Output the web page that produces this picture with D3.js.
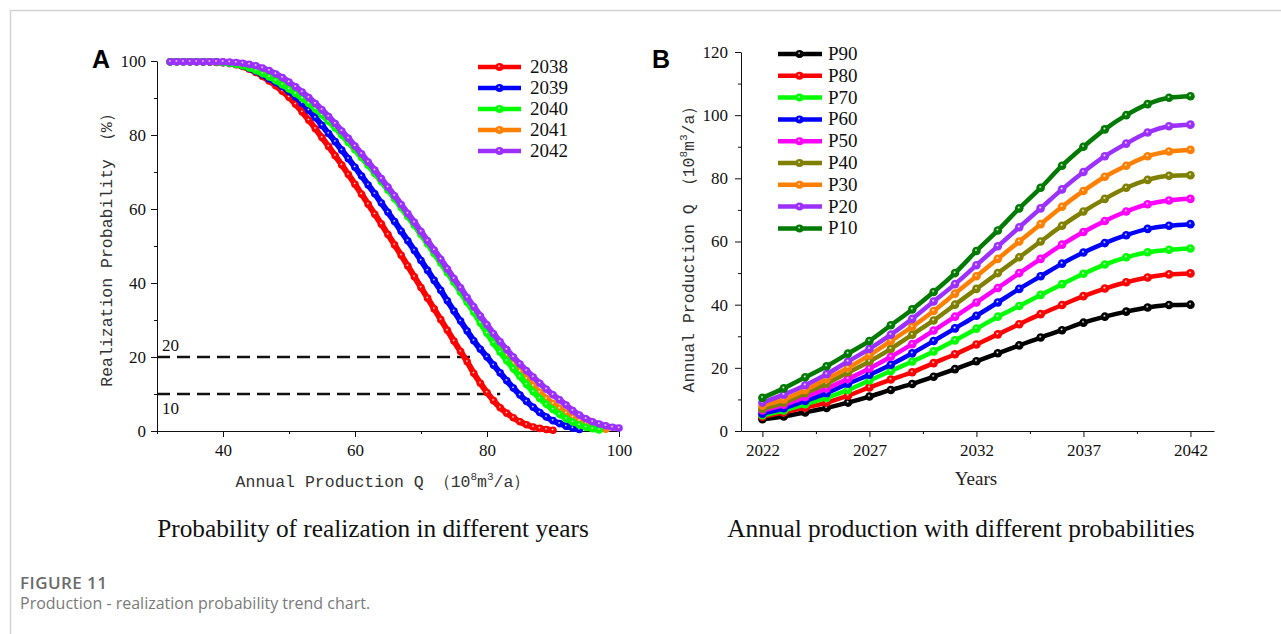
<!DOCTYPE html>
<html>
<head>
<meta charset="utf-8">
<script src="https://cdn.jsdelivr.net/npm/d3@7"></script>
<style>
body { margin: 0; background: #fff; }
</style>
</head>
<body>
<div id="chart"></div>
<script>
// ---- Panel A data: realization probability (%) against annual production Q ----
const qGrid = [32, 33, 34, 35, 36, 37, 38, 39, 40, 41, 42, 43, 44, 45, 46, 47, 48, 49, 50,
  51, 52, 53, 54, 55, 56, 57, 58, 59, 60, 61, 62, 63, 64, 65, 66, 67, 68, 69, 70,
  71, 72, 73, 74, 75, 76, 77, 78, 79, 80, 81, 82, 83, 84, 85, 86, 87, 88, 89, 90,
  91, 92, 93, 94, 95, 96, 97, 98, 99, 100]
const yearsA = ['2038', '2039', '2040', '2041', '2042']
const colorsA = ['#ff0000', '#0000ff', '#00ff00', '#ff8000', '#9b30ff']
const p2038 = [99.8, 99.8, 99.8, 99.8, 99.8, 99.7, 99.7, 99.6, 99.5, 99.3, 99.0, 98.5, 97.8, 96.9, 95.8, 94.6, 93.3, 91.8, 90.2,
  88.3, 86.2, 84.0, 81.7, 79.3, 76.9, 74.4, 71.9, 69.3, 66.7, 64.0, 61.3, 58.6, 55.9, 53.1, 50.3, 47.5, 44.6, 41.7, 38.8,
  35.9, 33.0, 30.1, 27.2, 24.3, 21.5, 18.7, 15.6, 12.9, 10.4, 8.2, 6.3, 4.8, 3.6, 2.5, 1.7, 1.1, 0.7, 0.4, 0.2]
const p2039 = [99.8, 99.8, 99.8, 99.8, 99.8, 99.8, 99.8, 99.8, 99.6, 99.4, 99.1, 98.7, 98.0, 97.2, 96.3, 95.2, 94.2, 93.1, 91.8,
  90.3, 88.6, 86.7, 84.7, 82.6, 80.4, 78.2, 75.9, 73.6, 71.3, 68.9, 66.5, 64.1, 61.6, 59.1, 56.6, 54.0, 51.4, 48.8, 46.1,
  43.4, 40.7, 38.0, 35.2, 32.4, 29.7, 27.0, 24.4, 22.1, 20.0, 17.8, 15.7, 13.6, 11.6, 9.7, 8.0, 6.4, 5.0, 3.8, 2.8,
  2.0, 1.3, 0.8, 0.4]
const p2040 = [99.8, 99.8, 99.8, 99.8, 99.8, 99.8, 99.8, 99.7, 99.6, 99.4, 99.1, 98.7, 98.1, 97.4, 96.6, 95.7, 94.7, 93.6, 92.4,
  91.2, 89.9, 88.5, 87.0, 85.4, 83.7, 81.9, 80.0, 78.0, 76.0, 73.9, 71.8, 69.6, 67.4, 65.1, 62.8, 60.4, 58.0, 55.6, 53.1,
  50.6, 48.0, 45.4, 42.8, 40.2, 37.5, 34.8, 32.1, 29.2, 26.4, 23.8, 21.3, 19.0, 16.8, 14.7, 12.6, 10.6, 8.8, 7.2, 5.8,
  4.5, 3.3, 2.4, 1.6, 1.0, 0.6, 0.3]
const p2041 = [99.8, 99.8, 99.8, 99.8, 99.8, 99.8, 99.8, 99.8, 99.7, 99.5, 99.3, 99.0, 98.5, 97.9, 97.2, 96.3, 95.4, 94.4, 93.2,
  91.9, 90.5, 89.0, 87.5, 86.0, 84.3, 82.5, 80.5, 78.5, 76.5, 74.4, 72.3, 70.1, 67.9, 65.6, 63.3, 60.9, 58.5, 56.1, 53.7,
  51.2, 48.6, 46.0, 43.5, 40.9, 38.2, 35.6, 33.0, 30.3, 27.7, 25.1, 22.7, 20.4, 18.2, 16.1, 14.1, 12.2, 10.4, 8.8, 7.4,
  6.1, 4.8, 3.7, 2.8, 2.0, 1.4, 0.9, 0.5]
const p2042 = [99.8, 99.8, 99.8, 99.8, 99.8, 99.8, 99.8, 99.8, 99.8, 99.7, 99.6, 99.4, 99.1, 98.7, 98.1, 97.4, 96.5, 95.5, 94.3,
  93.0, 91.6, 90.1, 88.5, 86.8, 85.0, 83.1, 81.1, 79.1, 77.0, 74.9, 72.7, 70.5, 68.2, 65.9, 63.6, 61.2, 58.8, 56.4, 53.9,
  51.4, 48.9, 46.4, 43.8, 41.2, 38.7, 36.1, 33.6, 31.1, 28.7, 26.3, 24.1, 22.0, 20.0, 18.1, 16.3, 14.6, 12.9, 11.3, 9.8,
  8.4, 7.0, 5.5, 4.3, 3.3, 2.5, 1.9, 1.4, 1.0, 0.8]
const probA = [p2038, p2039, p2040, p2041, p2042]
const drawOrderA = [3, 0, 1, 2, 4]
const refLevels = [20, 10]
const refEnds = [78, 82]

// ---- Panel B data: annual production (10^8 m3/a) by year ----
const yearsB = [2022, 2023, 2024, 2025, 2026, 2027, 2028, 2029, 2030, 2031, 2032,
  2033, 2034, 2035, 2036, 2037, 2038, 2039, 2040, 2041, 2042]
const namesB = ['P90', 'P80', 'P70', 'P60', 'P50', 'P40', 'P30', 'P20', 'P10']
const colorsB = ['#000000', '#ff0000', '#00ff00', '#0000ff', '#ff00ff', '#808000', '#ff8000', '#9b30ff', '#007a00']
const p90 = [3.7, 4.6, 5.9, 7.3, 9.0, 10.9, 13.0, 14.9, 17.2, 19.6, 22.1, 24.6, 27.1, 29.6, 31.9, 34.3, 36.2, 37.8, 39.1, 39.9, 40.0]
const p80 = [4.5, 5.9, 7.4, 9.0, 11.2, 13.8, 16.3, 18.6, 21.5, 24.3, 27.4, 30.6, 33.8, 37.0, 39.9, 42.7, 45.1, 47.1, 48.6, 49.6, 49.9]
const p70 = [5.0, 6.5, 8.5, 10.5, 13.0, 16.0, 19.0, 22.0, 25.2, 28.7, 32.4, 36.2, 39.6, 43.1, 46.5, 49.8, 52.7, 55.0, 56.6, 57.4, 57.8]
const p60 = [5.5, 7.2, 9.5, 12.0, 15.0, 17.8, 21.0, 24.6, 28.5, 32.5, 36.5, 40.7, 45.0, 49.0, 53.0, 56.5, 59.5, 62.0, 64.0, 65.0, 65.5]
const p50 = [6.5, 8.3, 10.8, 13.5, 16.5, 19.8, 23.5, 27.5, 31.8, 36.2, 40.7, 45.3, 50.0, 54.5, 59.0, 63.0, 66.5, 69.5, 71.8, 73.0, 73.5]
const p40 = [7.0, 9.0, 12.0, 15.0, 18.5, 22.0, 26.0, 30.5, 35.0, 40.0, 45.0, 50.0, 55.0, 60.0, 65.0, 69.5, 73.5, 77.0, 79.5, 80.8, 81.0]
const p30 = [8.0, 10.0, 13.0, 16.5, 20.0, 24.0, 28.5, 33.0, 38.0, 43.5, 49.0, 54.5, 60.0, 65.5, 71.0, 76.0, 80.5, 84.0, 87.0, 88.5, 89.0]
const p20 = [9.0, 11.5, 14.5, 18.0, 22.0, 26.0, 30.5, 35.5, 41.0, 46.5, 52.5, 58.5, 64.5, 70.5, 76.5, 82.0, 87.0, 91.0, 94.5, 96.5, 97.0]
const p10 = [10.5, 13.5, 17.0, 20.5, 24.5, 28.5, 33.5, 38.5, 44.0, 50.0, 57.0, 63.5, 70.5, 77.0, 84.0, 90.0, 95.5, 100.0, 103.5, 105.5, 106.0]
const prodB = [p90, p80, p70, p60, p50, p40, p30, p20, p10]

// ---- canvas ----
const width = 1281
const height = 634
const serif = 'Liberation Serif, Times New Roman, serif'
const mono = 'Liberation Mono, Courier New, monospace'

const svg = d3.select('#chart').append('svg').attr('width', width).attr('height', height)

// figure frame
svg.append('line').attr('x1', 10).attr('x2', width).attr('y1', 10.5).attr('y2', 10.5)
  .attr('stroke', '#d4d4d4').attr('stroke-width', 1.5)
svg.append('line').attr('x1', 10.5).attr('x2', 10.5).attr('y1', 10).attr('y2', height)
  .attr('stroke', '#d4d4d4').attr('stroke-width', 1.5)

// shiny marker gradients
const defs = svg.append('defs')
function makeGradient(id, color) {
  const g = defs.append('radialGradient').attr('id', id)
    .attr('cx', '45%').attr('cy', '40%').attr('r', '60%')
  g.append('stop').attr('offset', '0%').attr('stop-color', '#ffffff')
  g.append('stop').attr('offset', '30%').attr('stop-color', color)
  g.append('stop').attr('offset', '100%').attr('stop-color', color)
  return `url(#${id})`
}
const fillsA = colorsA.map((c, i) => makeGradient('ga' + i, c))
const fillsB = colorsB.map((c, i) => makeGradient('gb' + i, c))

function styleAxis(g) {
  g.selectAll('text').attr('font-family', serif).attr('font-size', 17).attr('fill', '#111')
  g.selectAll('line').attr('stroke', '#111')
  g.select('.domain').attr('stroke', '#111')
}

// ================= Panel A =================
const xA = d3.scaleLinear().domain([30, 100]).range([157, 619])
const yA = d3.scaleLinear().domain([0, 100]).range([431, 61])

const axisA = svg.append('g').attr('class', 'axisA')
axisA.append('g').attr('transform', `translate(0,${yA(0)})`)
  .call(d3.axisBottom(xA).tickValues([30, 50, 70, 90]).tickSize(3).tickSizeOuter(0).tickFormat(''))
  .call(g => g.select('.domain').remove()).call(styleAxis)
axisA.append('g').attr('transform', `translate(0,${yA(0)})`)
  .call(d3.axisBottom(xA).tickValues([40, 60, 80, 100]).tickSize(6).tickSizeOuter(0).tickPadding(7))
  .call(styleAxis)
axisA.append('g').attr('transform', `translate(${xA(30)},0)`)
  .call(d3.axisLeft(yA).tickValues([10, 30, 50, 70, 90]).tickSize(3).tickSizeOuter(0).tickFormat(''))
  .call(g => g.select('.domain').remove()).call(styleAxis)
axisA.append('g').attr('transform', `translate(${xA(30)},0)`)
  .call(d3.axisLeft(yA).tickValues([0, 20, 40, 60, 80, 100]).tickSize(6).tickSizeOuter(0).tickPadding(5))
  .call(styleAxis)

// reference dashed lines
refLevels.forEach((lvl, i) => {
  svg.append('line').attr('x1', xA(30)).attr('x2', xA(refEnds[i]))
    .attr('y1', yA(lvl)).attr('y2', yA(lvl))
    .attr('stroke', '#111').attr('stroke-width', 2.5).attr('stroke-dasharray', '13,7')
})
svg.append('text').attr('x', 162).attr('y', yA(20) - 6).text('20')
  .attr('font-family', serif).attr('font-size', 17).attr('fill', '#111')
svg.append('text').attr('x', 162).attr('y', yA(10) + 20).text('10')
  .attr('font-family', serif).attr('font-size', 17).attr('fill', '#111')

const lineA = d3.line().x(d => xA(d[0])).y(d => yA(d[1])).curve(d3.curveMonotoneX)
const seriesA = drawOrderA.map(i => ({ i, pts: probA[i].map((p, k) => [qGrid[k], p]) }))
const gA = svg.append('g').attr('class', 'marksA')
seriesA.forEach(s => {
  const g = gA.append('g')
  g.append('path').datum(s.pts).attr('d', lineA)
    .attr('fill', 'none').attr('stroke', colorsA[s.i]).attr('stroke-width', 6)
  g.selectAll('circle').data(s.pts).enter().append('circle')
    .attr('cx', d => xA(d[0])).attr('cy', d => yA(d[1])).attr('r', 3.8)
    .attr('fill', fillsA[s.i])
})

// legend A
const legA = svg.append('g').attr('transform', 'translate(478,67)')
yearsA.forEach((yr, i) => {
  const row = legA.append('g').attr('transform', `translate(0,${i * 21})`)
  row.append('line').attr('x1', 0).attr('x2', 43).attr('stroke', colorsA[i]).attr('stroke-width', 4.5)
  row.append('circle').attr('cx', 21.5).attr('r', 4).attr('fill', fillsA[i])
  row.append('text').attr('x', 52).attr('y', 6).text(yr)
    .attr('font-family', serif).attr('font-size', 19).attr('fill', '#111')
})

// titles A
svg.append('text').attr('x', 92).attr('y', 68).text('A')
  .attr('font-family', 'Liberation Sans, Arial, sans-serif').attr('font-weight', 'bold').attr('font-size', 25)
svg.append('text').attr('transform', `translate(112,${yA(50)}) rotate(-90)`)
  .attr('text-anchor', 'middle').attr('font-family', mono).attr('font-size', 16.5).attr('fill', '#333')
  .text('Realization Probability （%）')
const xTitleA = svg.append('text').attr('x', 383).attr('y', 487).attr('text-anchor', 'middle')
  .attr('font-family', mono).attr('font-size', 16.5).attr('fill', '#333')
xTitleA.append('tspan').text('Annual Production Q （10')
xTitleA.append('tspan').attr('dy', -7).attr('font-size', 11).text('8')
xTitleA.append('tspan').attr('dy', 7).text('m')
xTitleA.append('tspan').attr('dy', -7).attr('font-size', 11).text('3')
xTitleA.append('tspan').attr('dy', 7).text('/a）')

// ================= Panel B =================
const xB = d3.scaleLinear().domain([2021, 2043.1]).range([741, 1214])
const yB = d3.scaleLinear().domain([0, 120]).range([431, 52])

const axisB = svg.append('g').attr('class', 'axisB')
axisB.append('g').attr('transform', `translate(0,${yB(0)})`)
  .call(d3.axisBottom(xB).tickValues([2024.5, 2029.5, 2034.5, 2039.5]).tickSize(3).tickSizeOuter(0).tickFormat(''))
  .call(g => g.select('.domain').remove()).call(styleAxis)
axisB.append('g').attr('transform', `translate(0,${yB(0)})`)
  .call(d3.axisBottom(xB).tickValues([2022, 2027, 2032, 2037, 2042]).tickSize(6).tickSizeOuter(0).tickPadding(7).tickFormat(d3.format('d')))
  .call(styleAxis)
axisB.append('g').attr('transform', `translate(${xB(2021)},0)`)
  .call(d3.axisLeft(yB).tickValues([10, 30, 50, 70, 90, 110]).tickSize(3).tickSizeOuter(0).tickFormat(''))
  .call(g => g.select('.domain').remove()).call(styleAxis)
axisB.append('g').attr('transform', `translate(${xB(2021)},0)`)
  .call(d3.axisLeft(yB).tickValues([0, 20, 40, 60, 80, 100, 120]).tickSize(6).tickSizeOuter(0).tickPadding(7))
  .call(styleAxis)

const lineB = d3.line().x(d => xB(d[0])).y(d => yB(d[1])).curve(d3.curveMonotoneX)
const gB = svg.append('g').attr('class', 'marksB')
prodB.forEach((vals, i) => {
  const pts = vals.map((v, k) => [yearsB[k], v])
  const g = gB.append('g')
  g.append('path').datum(pts).attr('d', lineB)
    .attr('fill', 'none').attr('stroke', colorsB[i]).attr('stroke-width', 4.5)
  g.selectAll('circle').data(pts).enter().append('circle')
    .attr('cx', d => xB(d[0])).attr('cy', d => yB(d[1])).attr('r', 4.3)
    .attr('fill', fillsB[i])
})

// legend B
const legB = svg.append('g').attr('transform', 'translate(778,54)')
namesB.forEach((nm, i) => {
  const row = legB.append('g').attr('transform', `translate(0,${i * 21.8})`)
  row.append('line').attr('x1', 0).attr('x2', 44).attr('stroke', colorsB[i]).attr('stroke-width', 4.5)
  row.append('circle').attr('cx', 21.5).attr('r', 4).attr('fill', fillsB[i])
  row.append('text').attr('x', 50).attr('y', 6).text(nm)
    .attr('font-family', serif).attr('font-size', 19).attr('fill', '#111')
})

svg.append('text').attr('x', 652).attr('y', 68).text('B')
  .attr('font-family', 'Liberation Sans, Arial, sans-serif').attr('font-weight', 'bold').attr('font-size', 25)
const yTitleB = svg.append('text').attr('transform', 'translate(694,245) rotate(-90)')
  .attr('text-anchor', 'middle').attr('font-family', mono).attr('font-size', 16.5).attr('fill', '#333')
yTitleB.append('tspan').text('Annual Production Q （10')
yTitleB.append('tspan').attr('dy', -7).attr('font-size', 11).text('8')
yTitleB.append('tspan').attr('dy', 7).text('m')
yTitleB.append('tspan').attr('dy', -7).attr('font-size', 11).text('3')
yTitleB.append('tspan').attr('dy', 7).text('/a）')
svg.append('text').attr('x', 976).attr('y', 485).attr('text-anchor', 'middle')
  .attr('font-family', serif).attr('font-size', 19).attr('fill', '#222').text('Years')

// subtitles
svg.append('text').attr('x', 373).attr('y', 537).attr('text-anchor', 'middle')
  .attr('font-family', serif).attr('font-size', 25.3).attr('fill', '#111')
  .text('Probability of realization in different years')
svg.append('text').attr('x', 961).attr('y', 537).attr('text-anchor', 'middle')
  .attr('font-family', serif).attr('font-size', 25.3).attr('fill', '#111')
  .text('Annual production with different probabilities')

// caption
svg.append('text').attr('x', 20).attr('y', 589)
  .attr('font-family', 'Open Sans, Noto Sans, sans-serif').attr('font-weight', 600).attr('font-size', 17)
  .attr('textLength', 87).attr('fill', '#6b6b6b').text('FIGURE 11')
svg.append('text').attr('x', 20).attr('y', 609)
  .attr('font-family', 'Open Sans, Noto Sans, sans-serif').attr('font-size', 16)
  .attr('fill', '#7a7a7a').text('Production - realization probability trend chart.')
</script>
</body>
</html>
